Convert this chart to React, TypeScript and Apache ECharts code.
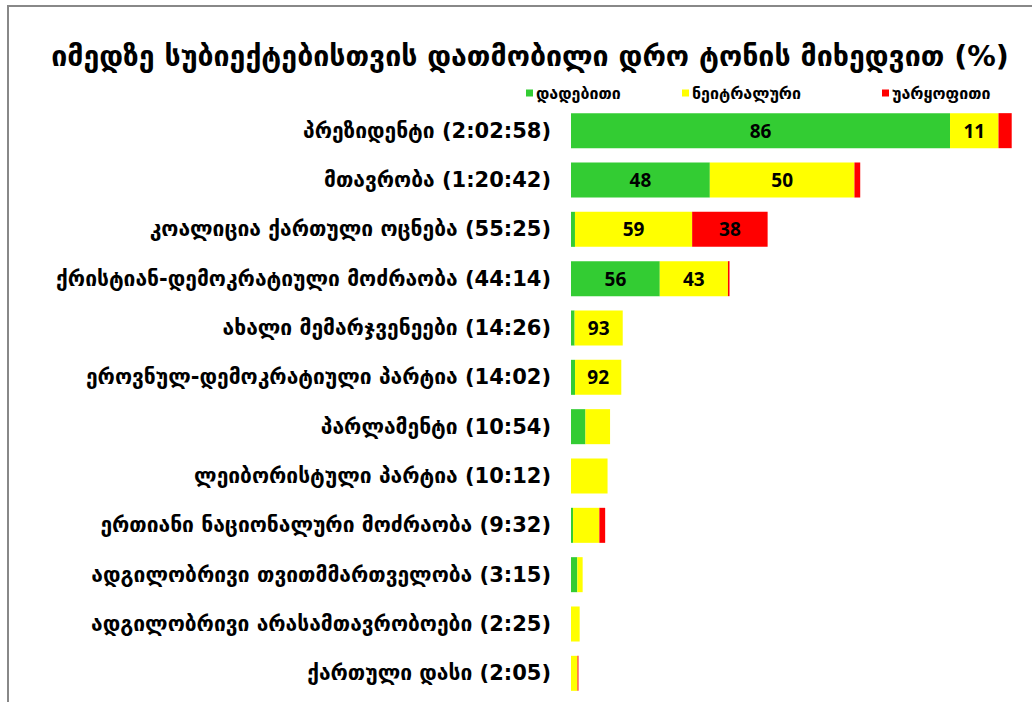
import React, { useEffect, useRef } from "react";
import * as echarts from "echarts";

const TITLE = "იმედზე სუბიექტებისთვის დათმობილი დრო ტონის მიხედვით (%)";
const SERIES_NAMES = ["დადებითი", "ნეიტრალური", "უარყოფითი"];
const COLORS = ["#33CC33", "#FFFF00", "#FF0000"];

const subjects = [
  "პრეზიდენტი",
  "მთავრობა",
  "კოალიცია ქართული ოცნება",
  "ქრისტიან-დემოკრატიული მოძრაობა",
  "ახალი მემარჯვენეები",
  "ეროვნულ-დემოკრატიული პარტია",
  "პარლამენტი",
  "ლეიბორისტული პარტია",
  "ერთიანი ნაციონალური მოძრაობა",
  "ადგილობრივი თვითმმართველობა",
  "ადგილობრივი არასამთავრობოები",
  "ქართული დასი",
];
const durations = [
  "2:02:58", "1:20:42", "55:25", "44:14", "14:26", "14:02",
  "10:54", "10:12", "9:32", "3:15", "2:25", "2:05",
];
const positive = [86, 48, 2, 56, 7, 8, 37, 0, 6, 54, 0, 0];
const neutral = [11, 50, 59, 43, 93, 92, 63, 100, 77, 46, 100, 87];
const negative = [3, 2, 38, 1, 0, 0, 0, 0, 17, 0, 0, 13];

function toMinutes(s: string): number {
  const p = s.split(":").map(Number);
  if (p.length === 3) return p[0] * 60 + p[1] + p[2] / 60;
  return p[0] + p[1] / 60;
}

export default function App() {
  const ref = useRef<HTMLDivElement>(null);
  useEffect(() => {
    if (!ref.current) return;
    const chart = echarts.init(ref.current, undefined, { renderer: "svg" });
    const cats = subjects.map((s, i) => `${s} (${durations[i]})`);
    const mins = durations.map(toMinutes);
    const pcts = [positive, neutral, negative];
    const series = pcts.map((arr, si) => ({
      name: SERIES_NAMES[si],
      type: "bar",
      stack: "total",
      barWidth: "71%",
      itemStyle: { color: COLORS[si] },
      label: {
        show: true,
        position: "inside",
        color: "#000",
        fontFamily: "Open Sans",
        fontWeight: "bold",
        fontSize: 19,
        formatter: (p: any) => (p.value >= 12 ? String(arr[p.dataIndex]) : ""),
      },
      data: arr.map((v, i) => (mins[i] * v) / 100),
    }));
    const legendLefts = [521, 677, 877];
    chart.setOption({
      animation: false,
      backgroundColor: "#fff",
      title: {
        text: TITLE,
        left: 525,
        top: 37,
        textAlign: "center",
        textStyle: {
          fontFamily: "DejaVu Sans",
          fontWeight: "bold",
          fontSize: 28.5,
          color: "#000",
        },
      },
      legend: SERIES_NAMES.map((n, i) => ({
        data: [n],
        left: legendLefts[i],
        top: 80,
        itemWidth: 7,
        itemHeight: 7,
        itemGap: 4,
        icon: "rect",
        textStyle: {
          fontFamily: "DejaVu Sans",
          fontWeight: "bold",
          fontSize: 16,
          color: "#000",
          padding: [0, 0, 0, -2],
        },
      })),
      grid: { left: 571, right: 13, top: 106, bottom: 4, containLabel: false },
      xAxis: {
        type: "value",
        min: 0,
        max: 125,
        show: false,
      },
      yAxis: {
        type: "category",
        inverse: true,
        data: cats,
        axisLine: { show: false },
        axisTick: { show: false },
        axisLabel: {
          margin: 20,
          fontFamily: "DejaVu Sans",
          fontWeight: "bold",
          fontSize: 21,
          color: "#000",
        },
      },
      graphic: [
        { type: "line", shape: { x1: 7, y1: 6, x2: 1032, y2: 6 }, style: { stroke: "#888", lineWidth: 2 } },
        { type: "line", shape: { x1: 8, y1: 5, x2: 8, y2: 702 }, style: { stroke: "#888", lineWidth: 2 } },
      ],
      series,
    });
    return () => chart.dispose();
  }, []);
  return (
    <div
      ref={ref}
      style={{ position: "fixed", left: 0, top: 0, width: 1032, height: 702 }}
    />
  );
}
